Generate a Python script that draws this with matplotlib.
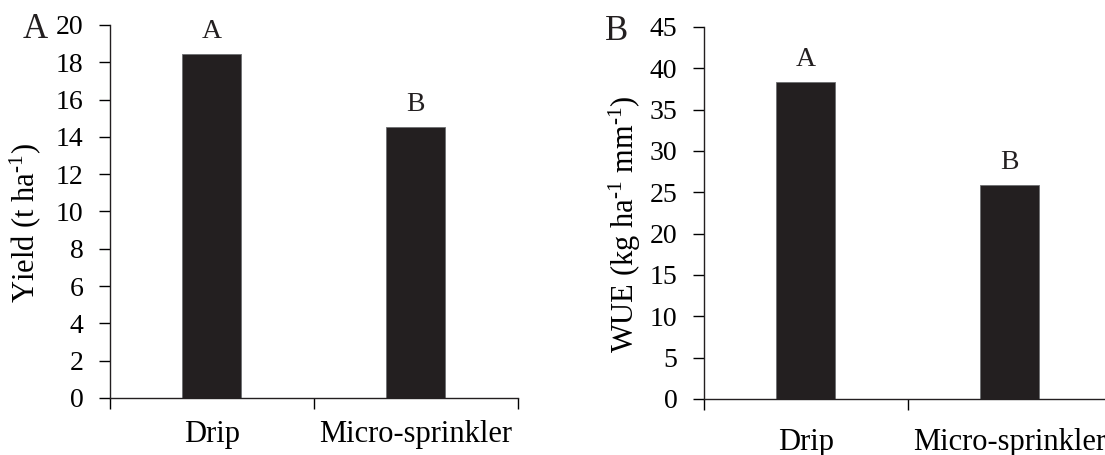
import matplotlib
matplotlib.use('Agg')
import matplotlib.pyplot as plt

# data
methods = ['Drip', 'Micro-sprinkler']
yield_vals = [18.45, 14.55]
wue_vals = [38.4, 25.9]
yield_letters = ['A', 'B']
wue_letters = ['A', 'B']

plt.rcParams['font.family'] = 'Liberation Serif'
plt.rcParams['mathtext.fontset'] = 'custom'
plt.rcParams['mathtext.rm'] = 'Liberation Serif'
plt.rcParams['mathtext.it'] = 'Liberation Serif:italic'
plt.rcParams['text.color'] = '#231f20'

bar_color = '#231f20'

fig = plt.figure(figsize=(11.05, 4.55), dpi=100)
ax1 = fig.add_axes([0.0995, 0.1253, 0.369, 0.8198])
ax2 = fig.add_axes([0.637, 0.1231, 0.369, 0.8176])


def make_panel(ax, values, letters, ymax, ystep, ylabel, cat_pad, label_x):
    x = [i + 0.5 for i in range(len(values))]
    ax.bar(x, values, width=0.29, color=bar_color, edgecolor='#6d6e71', linewidth=0.6)
    for xi, v, lab in zip(x, values, letters):
        ax.annotate(lab, (xi, v), xytext=(0, 7), textcoords='offset points',
                    ha='center', va='bottom', fontsize=20)
    ax.set_xlim(0, len(values))
    ax.set_ylim(0, ymax)
    ax.set_yticks(range(0, ymax + 1, ystep))
    ax.set_xticks([0, 1, 2])
    ax.set_xticklabels([])
    ax.set_xticks(x, minor=True)
    ax.set_xticklabels(methods, minor=True)
    ax.tick_params(axis='x', which='minor', length=0, pad=cat_pad, labelsize=22)
    ax.tick_params(axis='x', which='major', length=8, width=1, direction='out')
    ax.tick_params(axis='y', length=8, width=1, direction='out', pad=11, labelsize=20)
    for s in ['top', 'right']:
        ax.spines[s].set_visible(False)
    for s in ['left', 'bottom']:
        ax.spines[s].set_linewidth(1)
        ax.spines[s].set_color('#231f20')
    ax.set_ylabel(ylabel, fontsize=22)
    ax.yaxis.set_label_coords(label_x, 0.47)


make_panel(ax1, yield_vals, yield_letters, 20, 2, r'Yield (t ha$^{\text{-1}}$)', 16, -0.164)
make_panel(ax2, wue_vals, wue_letters, 45, 5,
           r'WUE (kg ha$^{\text{-1}}$ mm$^{\text{-1}}$)', 21, -0.150)

fig.text(35 / 1105, 1 - 29 / 455, 'A', fontsize=25, ha='center', va='center')
fig.text(617 / 1105, 1 - 31 / 455, 'B', fontsize=25, ha='center', va='center')

fig.savefig('out.png', dpi=100)
